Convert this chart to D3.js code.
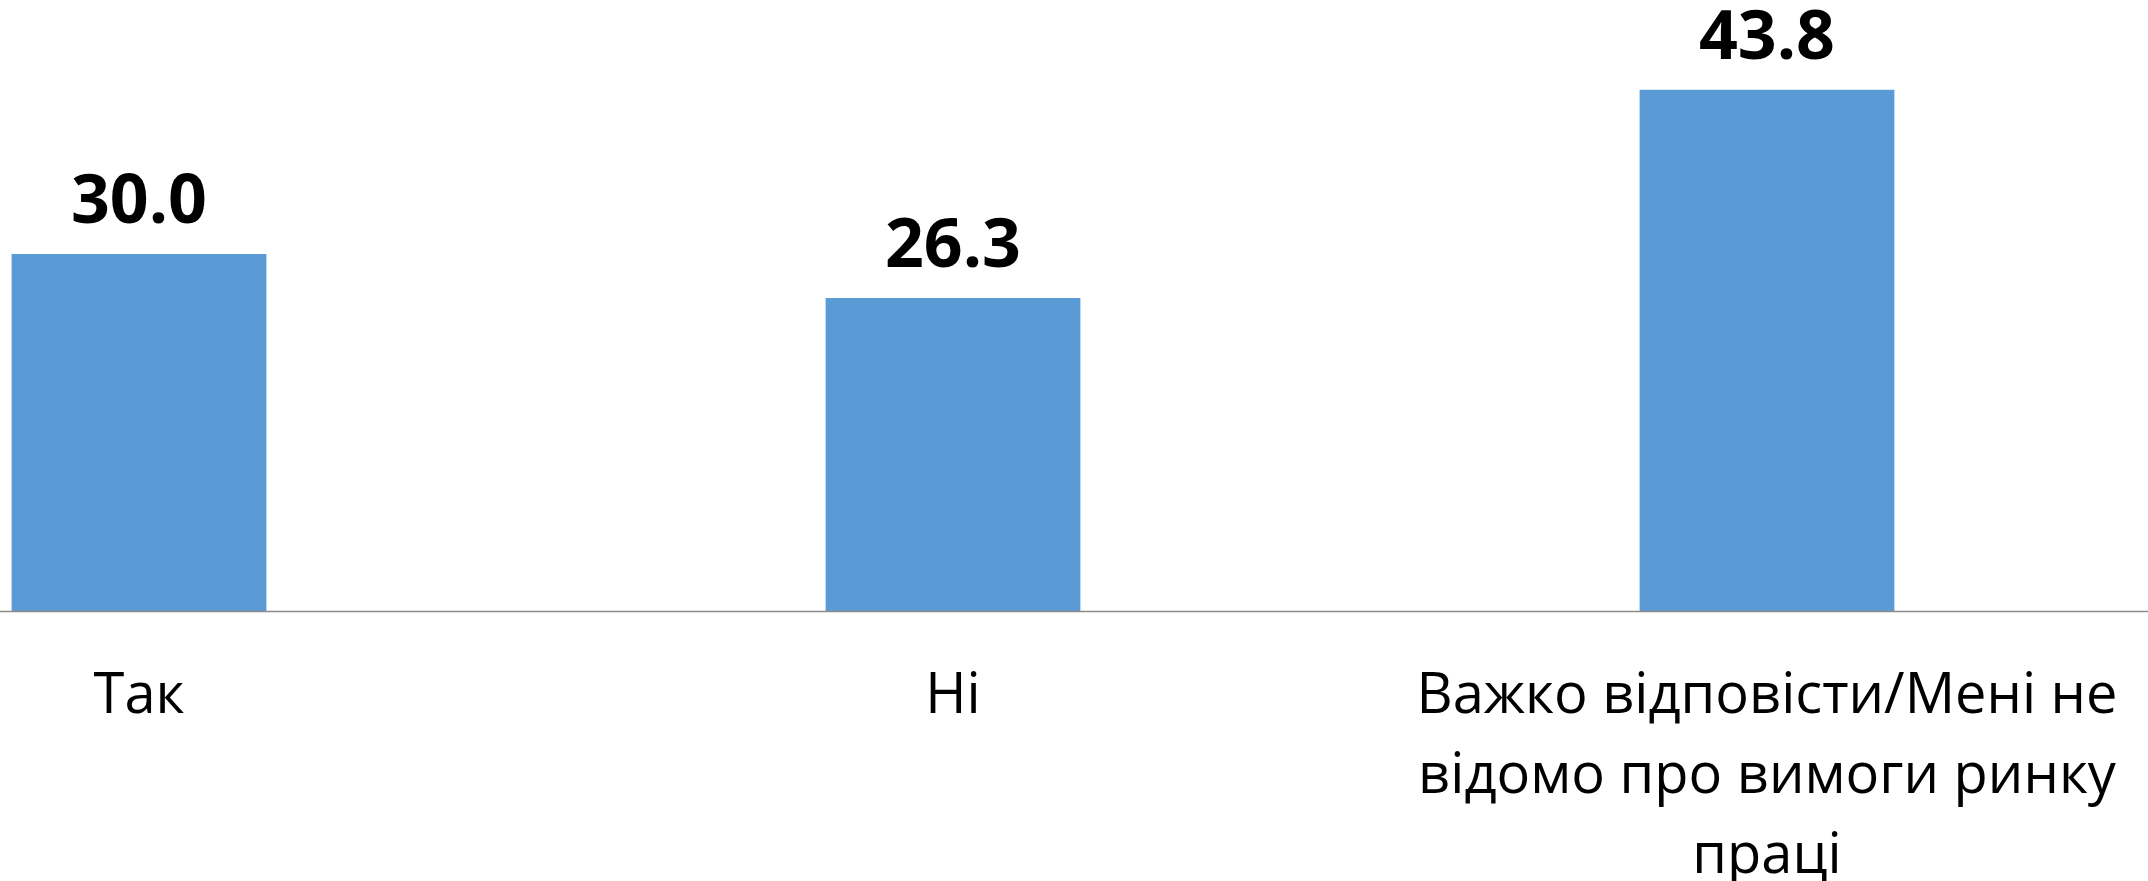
<!DOCTYPE html>
<html><head><meta charset="utf-8">
<script src="https://cdn.jsdelivr.net/npm/d3@7"></script>
<style>html,body{margin:0;padding:0;background:#fff;overflow:hidden}</style>
</head><body>
<svg id="chart" width="2148" height="881"></svg>
<script>
const categories = ["Так", "Ні", "Важко відповісти/Мені не відомо про вимоги ринку праці"];
const values = [30.0, 26.3, 43.8];
const labels = ["30.0", "26.3", "43.8"];

const W = 2148, H = 881;
const svg = d3.select("#chart");
const baseY = 611;
const x = d3.scaleBand().domain(categories).range([-268, 2174]).paddingInner(0.687).paddingOuter(0.3435);
const y = d3.scaleLinear().domain([0, 50]).range([baseY, baseY - 595]);

svg.append("g").selectAll("rect").data(values).join("rect")
  .attr("x", (d, i) => x(categories[i]))
  .attr("y", d => y(d))
  .attr("width", x.bandwidth())
  .attr("height", d => baseY - y(d))
  .attr("fill", "#5B9BD5");

svg.append("line").attr("x1", 0).attr("x2", W).attr("y1", baseY + 0.5).attr("y2", baseY + 0.5)
  .attr("stroke", "#8c8c8c").attr("stroke-width", 1.5);

svg.append("g").selectAll("text").data(values).join("text")
  .attr("x", (d, i) => x(categories[i]) + x.bandwidth() / 2)
  .attr("y", d => y(d) - 31)
  .attr("text-anchor", "middle")
  .attr("font-family", "Open Sans, sans-serif")
  .attr("font-weight", "bold")
  .attr("font-size", 68)
  .attr("fill", "#000")
  .text((d, i) => labels[i]);

const fontSize = 56, lineH = 80, maxW = 760;
const g = svg.append("g");
categories.forEach((c, i) => {
  const cx = x(c) + x.bandwidth() / 2;
  const t = g.append("text").attr("x", cx).attr("y", 713)
    .attr("text-anchor", "middle")
    .attr("font-family", "Open Sans, sans-serif")
    .attr("font-size", fontSize).attr("fill", "#000");
  const words = c.split(" ");
  let line = [], lineNo = 0;
  let ts = t.append("tspan").attr("x", cx).attr("y", 713);
  words.forEach(w => {
    line.push(w);
    ts.text(line.join(" "));
    if (ts.node().getComputedTextLength() > maxW && line.length > 1) {
      line.pop();
      ts.text(line.join(" "));
      line = [w];
      lineNo++;
      ts = t.append("tspan").attr("x", cx).attr("y", 713 + lineNo * lineH).text(w);
    }
  });
});
</script>
</body></html>
